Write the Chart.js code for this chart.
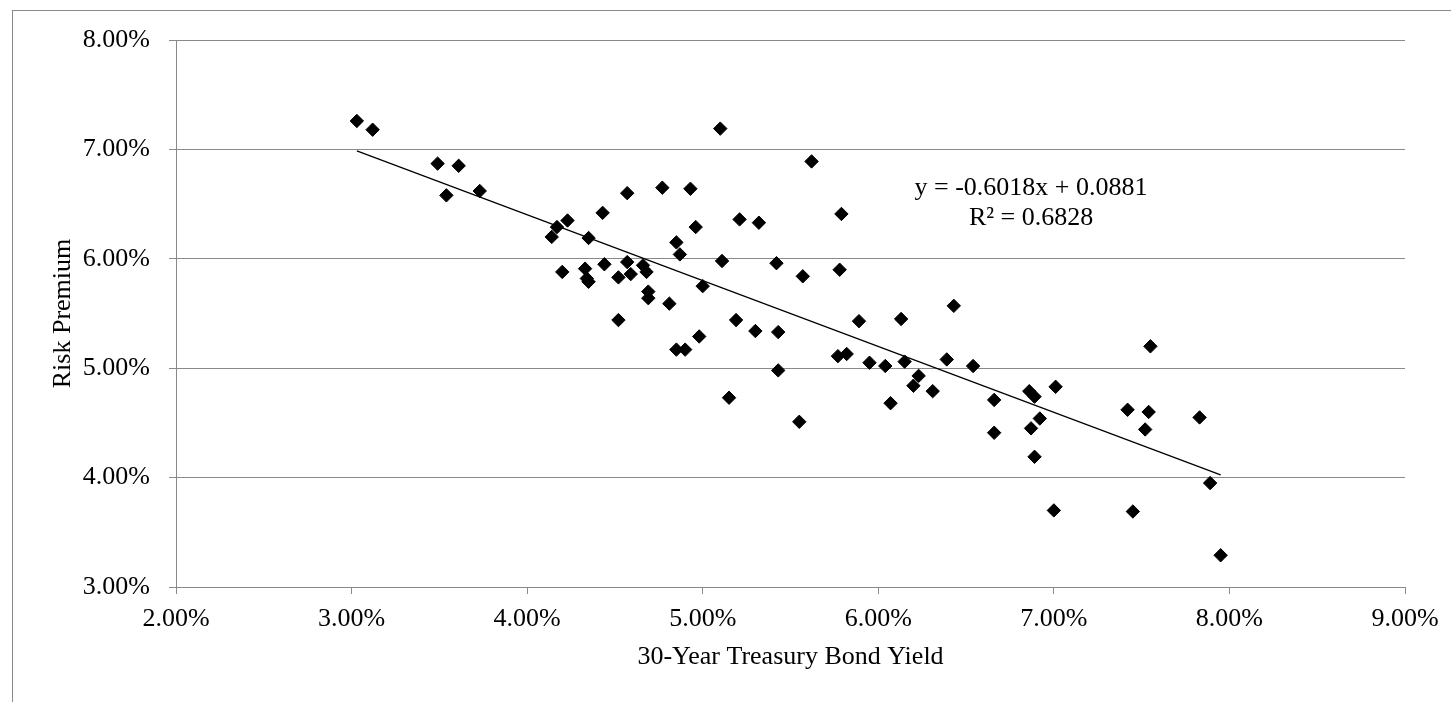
<!DOCTYPE html>
<html>
<head>
<meta charset="utf-8">
<title>Risk Premium vs 30-Year Treasury Bond Yield</title>
<script src="https://cdn.jsdelivr.net/npm/chart.js@4.4.1/dist/chart.umd.min.js"></script>
<style>
    html, body { margin: 0; padding: 0; background: #fff; }
    #chart { display: block; }
</style>
</head>
<body>
<canvas id="chart" width="1451" height="702"></canvas>
<script>
// 30-year treasury bond yield (%) and the matching risk premium (%)
const bondYields = [
    3.03, 3.12, 3.49, 3.61, 3.54, 3.73, 4.23, 4.17, 4.14, 4.20,
    4.35, 4.43, 4.57, 4.77, 4.93, 5.21, 4.96, 4.85, 4.87, 5.11,
    4.33, 4.34, 4.35, 4.44, 4.57, 4.52, 4.59, 4.66, 4.68, 4.69,
    4.69, 4.81, 5.00, 5.19, 4.52, 4.98, 4.85, 4.90, 5.15, 5.10,
    5.62, 5.32, 5.79, 5.42, 5.57, 5.78, 5.30, 5.43, 5.89, 6.13,
    6.43, 5.43, 5.55, 5.77, 5.82, 5.95, 6.04, 6.15, 6.23, 6.20,
    6.31, 6.07, 6.39, 6.54, 6.66, 6.66, 6.86, 6.89, 6.92, 6.87,
    6.89, 7.01, 7.00, 7.42, 7.54, 7.52, 7.83, 7.45, 7.89, 7.95,
    7.55
];
const riskPremiums = [
    7.26, 7.18, 6.87, 6.85, 6.58, 6.62, 6.35, 6.29, 6.20, 5.88,
    6.19, 6.42, 6.60, 6.65, 6.64, 6.36, 6.29, 6.15, 6.04, 5.98,
    5.91, 5.82, 5.79, 5.95, 5.97, 5.83, 5.86, 5.94, 5.88, 5.70,
    5.64, 5.59, 5.75, 5.44, 5.44, 5.29, 5.17, 5.17, 4.73, 7.19,
    6.89, 6.33, 6.41, 5.96, 5.84, 5.90, 5.34, 5.33, 5.43, 5.45,
    5.57, 4.98, 4.51, 5.11, 5.13, 5.05, 5.02, 5.06, 4.93, 4.84,
    4.79, 4.68, 5.08, 5.02, 4.71, 4.41, 4.79, 4.74, 4.54, 4.45,
    4.19, 4.83, 3.70, 4.62, 4.60, 4.44, 4.55, 3.69, 3.95, 3.29,
    5.20
];

const xTickValues = [2, 3, 4, 5, 6, 7, 8, 9];
const yTickValues = [3, 4, 5, 6, 7, 8];

// trendline as printed on the chart: y = -0.6018x + 0.0881
const trendSlope = -0.6018;
const trendIntercept = 0.0881;
const trendLabel = ['y = -0.6018x + 0.0881', 'R\u00b2 = 0.6828'];
const trendLabelAt = {x: 6.87, y: 6.51};

const FONT = '"Liberation Serif", "Times New Roman", serif';
const GRID = '#898989';

const points = bondYields.map((x, i) => ({x: x, y: riskPremiums[i]}));
const minYield = Math.min(...bondYields);
const maxYield = Math.max(...bondYields);
const trendPoints = [minYield, maxYield].map(x => ({
    x: x,
    y: (trendSlope * x / 100 + trendIntercept) * 100
}));

const pct = (value) => Number(value).toFixed(2) + '%';

const frame = {
    id: 'frame',
    beforeDraw(chart) {
        const ctx = chart.ctx;
        ctx.save();
        ctx.fillStyle = '#fff';
        ctx.fillRect(0, 0, chart.width, chart.height);
        ctx.strokeStyle = GRID;
        ctx.lineWidth = 1;
        ctx.strokeRect(12.5, 10.5, chart.width, chart.height);
        ctx.restore();
    },
    afterDraw(chart) {
        const ctx = chart.ctx;
        const cx = chart.scales.x.getPixelForValue(trendLabelAt.x);
        const cy = chart.scales.y.getPixelForValue(trendLabelAt.y);
        ctx.save();
        ctx.font = '26px ' + FONT;
        ctx.fillStyle = '#000';
        ctx.textAlign = 'center';
        ctx.textBaseline = 'middle';
        ctx.fillText(trendLabel[0], cx, cy - 15);
        ctx.fillText(trendLabel[1], cx, cy + 15);
        ctx.restore();
    }
};

new Chart(document.getElementById('chart'), {
    type: 'scatter',
    data: {
        datasets: [{
            label: 'Risk Premium',
            data: points,
            pointStyle: 'rectRot',
            pointRadius: 6.7,
            borderWidth: 1,
            backgroundColor: '#000',
            borderColor: '#000',
            order: 2
        }, {
            type: 'line',
            label: 'Trend',
            data: trendPoints,
            borderColor: '#000',
            borderWidth: 1.3,
            pointRadius: 0,
            fill: false,
            order: 1
        }]
    },
    options: {
        responsive: false,
        animation: false,
        devicePixelRatio: 1,
        layout: {padding: {left: 0, top: 40, right: 46, bottom: 0}},
        plugins: {
            legend: {display: false},
            tooltip: {enabled: false}
        },
        scales: {
            x: {
                type: 'linear',
                min: 2,
                max: 9,
                afterBuildTicks: (scale) => { scale.ticks = xTickValues.map(v => ({value: v})); },
                afterFit: (scale) => { scale.height = 115; },
                ticks: {
                    callback: pct,
                    color: '#000',
                    font: {family: FONT, size: 26},
                    padding: 9.6,
                    maxRotation: 0
                },
                grid: {drawOnChartArea: false, color: GRID, tickLength: 7},
                border: {display: true, color: GRID},
                title: {
                    display: true,
                    text: '30-Year Treasury Bond Yield',
                    color: '#000',
                    font: {family: FONT, size: 26},
                    padding: {top: 0, bottom: 29.5}
                }
            },
            y: {
                type: 'linear',
                min: 3,
                max: 8,
                afterBuildTicks: (scale) => { scale.ticks = yTickValues.map(v => ({value: v})); },
                afterFit: (scale) => { scale.width = 176; },
                ticks: {
                    callback: pct,
                    color: '#000',
                    font: {family: FONT, size: 26},
                    padding: 19
                },
                grid: {color: GRID, tickLength: 7},
                border: {display: true, color: GRID},
                title: {
                    display: true,
                    text: 'Risk Premium',
                    color: '#000',
                    font: {family: FONT, size: 26},
                    padding: {top: 47.3, bottom: 0}
                }
            }
        }
    },
    plugins: [frame]
});
</script>
</body>
</html>
